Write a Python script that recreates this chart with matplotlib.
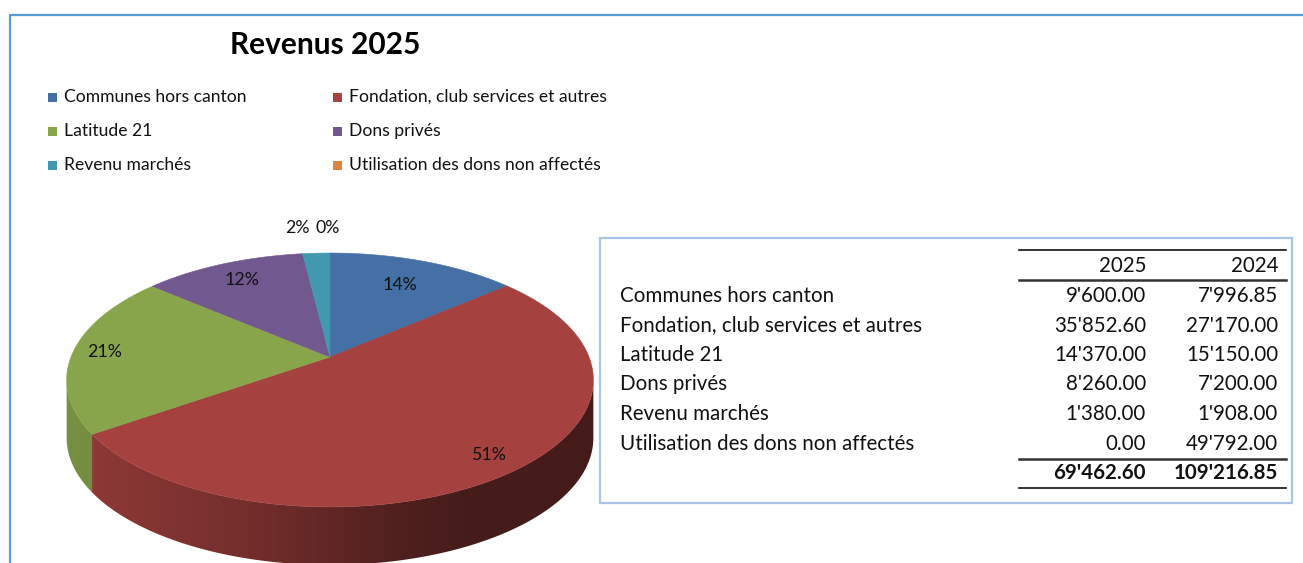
import numpy as np
import matplotlib
matplotlib.use("Agg")
import matplotlib.pyplot as plt
from matplotlib.patches import Polygon, Rectangle

plt.rcParams['font.family'] = ['Lato', 'DejaVu Sans']

# --- données ---
categories = ["Communes hors canton", "Fondation, club services et autres",
              "Latitude 21", "Dons privés", "Revenu marchés",
              "Utilisation des dons non affectés"]
values_2025 = [9600.00, 35852.60, 14370.00, 8260.00, 1380.00, 0.00]
values_2024 = [7996.85, 27170.00, 15150.00, 7200.00, 1908.00, 49792.00]
pct_labels = ["14%", "51%", "21%", "12%", "2%", "0%"]
title = "Revenus 2025"
years = ["2025", "2024"]

colors = ["#4470A5", "#A5423F", "#89A54B", "#71588F", "#4198AF", "#DB843D"]

# --- géométrie (pixels) ---
W, H = 1303, 563
CX, CY = 330, 357          # sommet des parts
SX, SY = 259, 122.8        # demi-axes
K = 0.181                  # perspective
DEPTH = 58
label_r = [0.72, 0.88, 0.88, 0.8, 1.3, 1.3]
label_dx = [0, 0, 0, 0, -16, -2]


def project(u, v):
    w = 1 + K * v
    return CX + SX * u / w, CY - SY * v / w


def fmt(v):
    return f"{v:,.2f}".replace(",", "'")


fig = plt.figure(figsize=(W / 100, H / 100), dpi=100)
ax = fig.add_axes([0, 0, 1, 1])
ax.set_xlim(0, W)
ax.set_ylim(H, 0)
ax.axis("off")

# cadre extérieur
ax.plot([10, 10, W], [H, 15, 15], color="#5B9BD5", lw=1.6, solid_capstyle="butt")

# titre
ax.text(325, 45, title, fontsize=21.5, fontweight="bold", ha="center", va="center")

# légende (deux colonnes, rangées)
for i, name in enumerate(categories):
    col, row = i % 2, i // 2
    x0 = 48 + col * 285
    y0 = 97 + row * 34
    ax.add_patch(Rectangle((x0, y0 - 4.5), 9, 9, color=colors[i], lw=0))
    ax.text(x0 + 16, y0, name, fontsize=12.6, ha="left", va="center", color="#111111")

# --- camembert 3D ---
total = sum(values_2025)
fracs = [v / total for v in values_2025]
starts = 90 - 360 * np.concatenate([[0], np.cumsum(fracs)[:-1]])
ends = starts - 360 * np.array(fracs)

t_vis = np.degrees(np.arcsin(K))     # limite visible du flanc
vis_lo, vis_hi = 180 + t_vis, 360 - t_vis
x_left, x_right = CX - SX * 1.02, CX + SX * 1.02
xs = np.linspace(x_left, x_right, 400)
# éclairage du flanc : clair à gauche, sombre à droite
fade = np.interp(xs, [60, 95, 250, 400, 460, 600], [0.88, 0.85, 0.70, 0.48, 0.43, 0.42])

for i in range(len(values_2025)):
    a0, a1 = ends[i], starts[i]
    for k in (-1, 0, 1):
        lo = max(a0, vis_lo - 360 * k)
        hi = min(a1, vis_hi - 360 * k)
        if hi <= lo:
            continue
        ts = np.radians(np.linspace(lo, hi, 200))
        px, py = project(np.cos(ts), np.sin(ts))
        pts = list(zip(px, py)) + list(zip(px[::-1], py[::-1] + DEPTH))
        side = Polygon(pts, closed=True, facecolor="none", edgecolor="none")
        ax.add_patch(side)
        rgb = np.array(matplotlib.colors.to_rgb(colors[i]))
        img = (fade[:, None] * rgb[None, :])[None, :, :]
        im = ax.imshow(img, extent=(x_left, x_right, H, 0), aspect="auto",
                       interpolation="bilinear", zorder=2)
        im.set_clip_path(side)

ax.set_xlim(0, W)
ax.set_ylim(H, 0)

# faces supérieures
for i in range(len(values_2025)):
    if fracs[i] <= 0:
        continue
    ts = np.radians(np.linspace(starts[i], ends[i], 200))
    px, py = project(np.cos(ts), np.sin(ts))
    pts = [(CX, CY)] + list(zip(px, py))
    ax.add_patch(Polygon(pts, closed=True, facecolor=colors[i],
                         edgecolor=colors[i], lw=0.4, zorder=3))

# étiquettes %
for i, lab in enumerate(pct_labels):
    m = np.radians(0.5 * (starts[i] + ends[i]))
    lx, ly = project(label_r[i] * np.cos(m), label_r[i] * np.sin(m))
    ax.text(lx + label_dx[i], ly, lab, fontsize=12.8, ha="center", va="center",
            color="#111111", zorder=5)

# --- tableau ---
ax.add_patch(Rectangle((600, 238), 692, 265, fill=False, edgecolor="#A9C4E8", lw=1.6))
tx_lab, tx_c1, tx_c2 = 620, 1146, 1278
lx0, lx1 = 1019, 1286
fs = 14.8
tc = "#111111"
ax.plot([lx0, lx1], [250, 250], color="#111", lw=1.2)
ax.text(tx_c1, 266, years[0], fontsize=fs, ha="right", va="center", color=tc)
ax.text(tx_c2, 266, years[1], fontsize=fs, ha="right", va="center", color=tc)
ax.plot([lx0, lx1], [280, 280], color="#333", lw=1.8)
row_y0, row_dy = 296, 29.5
for i, name in enumerate(categories):
    y = row_y0 + i * row_dy
    ax.text(tx_lab, y, name, fontsize=fs, ha="left", va="center", color=tc)
    ax.text(tx_c1, y, fmt(values_2025[i]), fontsize=fs, ha="right", va="center", color=tc)
    ax.text(tx_c2, y, fmt(values_2024[i]), fontsize=fs, ha="right", va="center", color=tc)
ax.plot([lx0, lx1], [459, 459], color="#333", lw=1.8)
ax.text(tx_c1, 473, fmt(sum(values_2025)), fontsize=fs, fontweight="bold",
        ha="right", va="center", color=tc)
ax.text(tx_c2, 473, fmt(sum(values_2024)), fontsize=fs, fontweight="bold",
        ha="right", va="center", color=tc)
ax.plot([lx0, lx1], [488, 488], color="#111", lw=1.2)

fig.savefig("out.png", dpi=100)
